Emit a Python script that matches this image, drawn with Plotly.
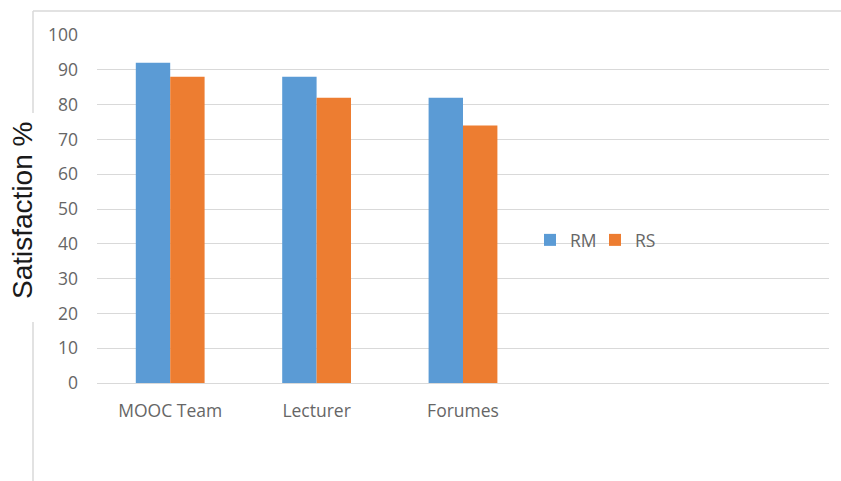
import plotly.graph_objects as go

categories = ["MOOC Team", "Lecturer", "Forumes", " ", "  "]
rm_values = [92, 88, 82, None, None]
rs_values = [88, 82, 74, None, None]
y_ticks = [0, 10, 20, 30, 40, 50, 60, 70, 80, 90, 100]

BLUE = "#5B9BD5"
ORANGE = "#ED7D31"
TICK_FONT = dict(family="Open Sans", size=17.5, color="#666666")

fig = go.Figure()
fig.add_trace(go.Bar(name="RM", x=categories, y=rm_values, marker=dict(color=BLUE, line=dict(width=0))))
fig.add_trace(go.Bar(name="RS", x=categories, y=rs_values, marker=dict(color=ORANGE, line=dict(width=0))))

W, H = 841, 481
L, R, T, B = 97, 829, 35, 383
fig.update_layout(
    width=W, height=H, autosize=False,
    margin=dict(l=L, r=W - R, t=T, b=H - B, pad=0),
    paper_bgcolor="white", plot_bgcolor="white",
    barmode="group", bargap=0.53, bargroupgap=0,
    showlegend=True,
    legend=dict(orientation="h", x=(530 - L) / (R - L), y=(B - 240) / (B - T),
                xanchor="left", yanchor="middle", font=TICK_FONT,
                bgcolor="rgba(0,0,0,0)", itemwidth=30, entrywidth=20, entrywidthmode="pixels",
                tracegroupgap=0),
    xaxis=dict(showline=False, showgrid=False, ticks="", tickfont=TICK_FONT,
               ticklabelstandoff=15, fixedrange=True),
    yaxis=dict(range=[0, 100], tickvals=y_ticks, showgrid=True, gridcolor="#D9D9D9", gridwidth=1,
               zeroline=True, zerolinecolor="#D9D9D9", zerolinewidth=1,
               showline=False, ticks="", tickfont=TICK_FONT, ticklabelstandoff=18),
)

def px_x(p):
    return (p - L) / (R - L)

def px_y(p):
    return (B - p) / (B - T)

frame = dict(type="line", xref="paper", yref="paper", line=dict(color="#D9D9D9", width=1.5), layer="below")
fig.add_shape(**frame, x0=px_x(33), x1=px_x(841), y0=px_y(11), y1=px_y(11))
fig.add_shape(**frame, x0=px_x(33), x1=px_x(33), y0=px_y(11), y1=px_y(113))
fig.add_shape(**frame, x0=px_x(33), x1=px_x(33), y0=px_y(322), y1=px_y(481))

fig.add_annotation(text="Satisfaction %", xref="paper", yref="paper", x=px_x(22), y=px_y(211),
                   textangle=-90, showarrow=False, xanchor="center", yanchor="middle",
                   font=dict(family="Liberation Sans", size=28, color="#1A1A1A"))

fig.write_html("out.html")
